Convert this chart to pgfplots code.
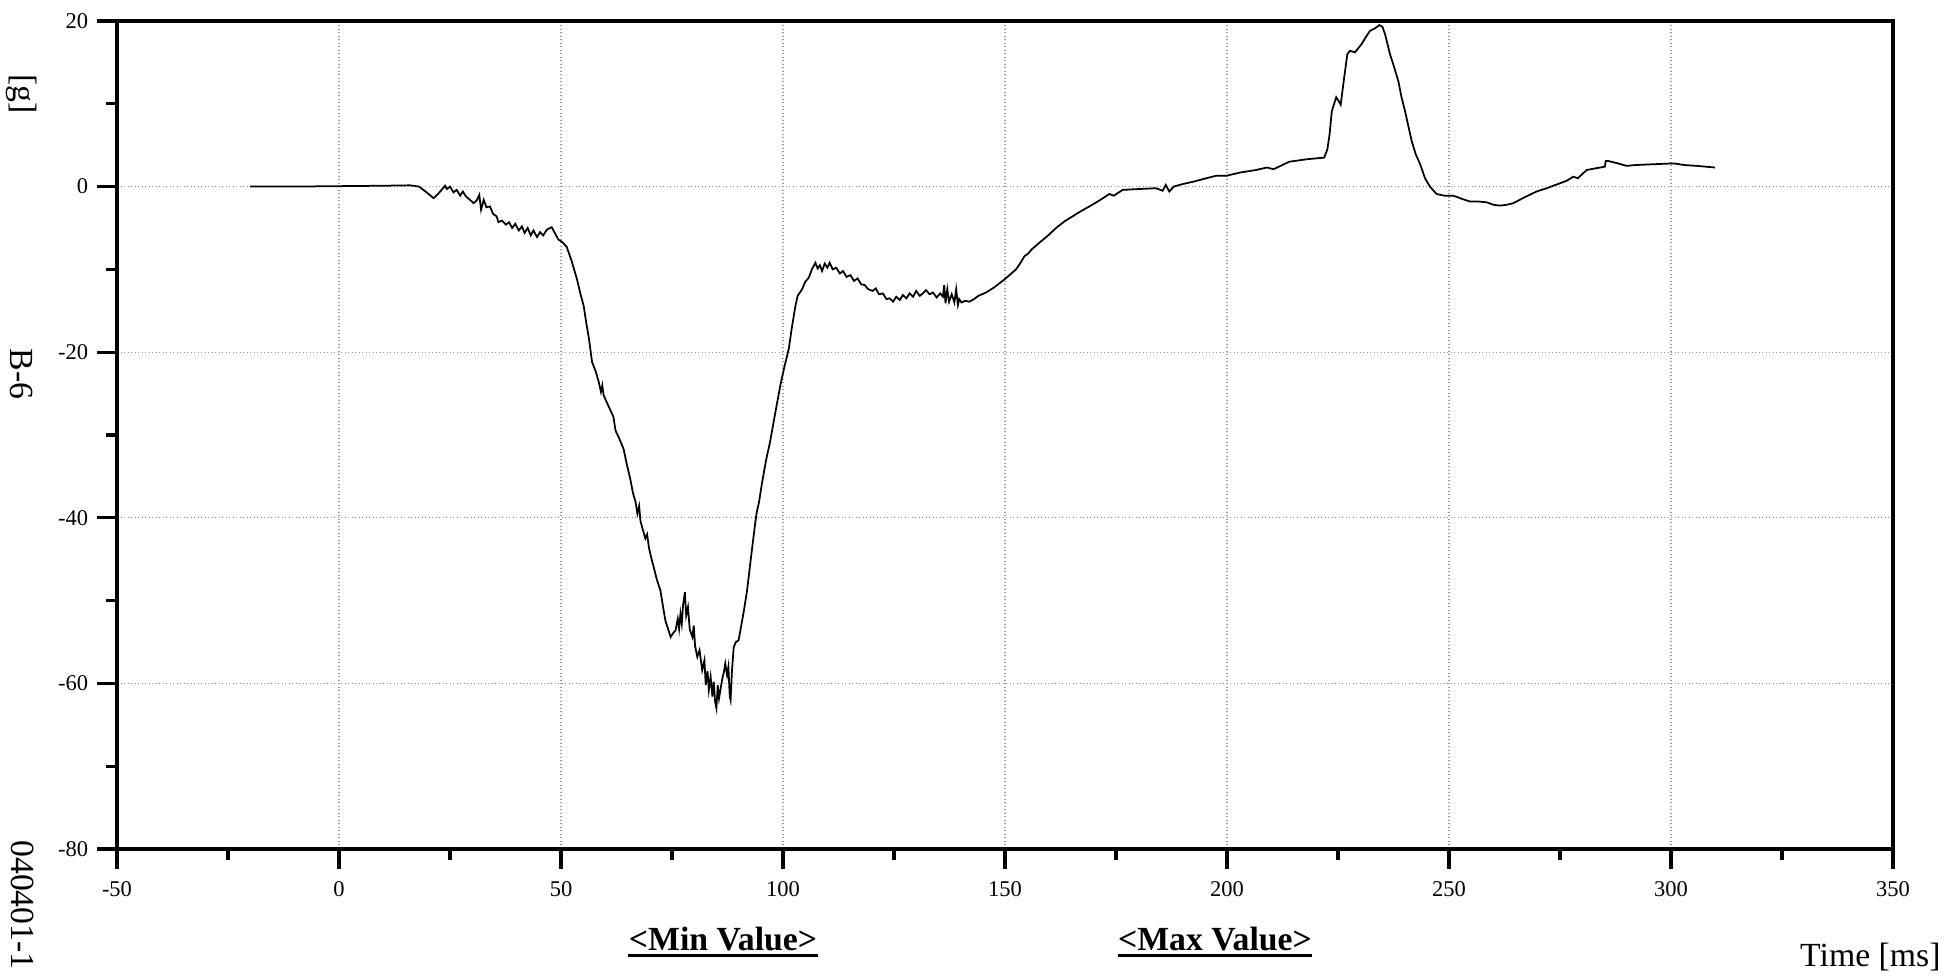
\documentclass[border=0pt]{standalone}
\usepackage{fontspec}
\setmainfont{Liberation Serif}
\usepackage{pgfplots}
\pgfplotsset{compat=1.18}

\begin{document}
\begin{tikzpicture}
\useasboundingbox (-46.8pt,-50.4pt) rectangle (730.8pt,339.6pt);
\begin{axis}[
  at={(0pt,0pt)}, anchor=south west,
  scale only axis, width=710.4pt, height=331.2pt,
  xmin=-50, xmax=350, ymin=-80, ymax=20,
  xtick={-50,0,...,350}, ytick={-80,-60,...,20},
  xticklabels={-50,0,50,100,150,200,250,300,350},
  yticklabels={-80,-60,-40,-20,0,20},
  minor x tick num=1, minor y tick num=1,
  xtick pos=left, ytick pos=left,
  tick align=outside,
  major tick length=8pt, minor tick length=4.4pt,
  every tick/.append style={black, line width=1.3pt},
  axis line style={line width=1.5pt},
  xmajorgrids, ymajorgrids,
  major grid style={densely dotted, gray!80, line width=0.5pt},
  tick label style={font=\fontsize{9}{10}\selectfont},
  xticklabel style={yshift=-1.6pt},
  clip=false,
]
\addplot[black, line width=0.7pt] coordinates {
(-20,0.0) (-10,0.0) (0,0.05) (10,0.1) (16,0.15) (18,0.0)
(19.5,-0.6) (21.3,-1.4) (22.3,-0.9) (23.9,0.1) (24.3,-0.3) (25.0,0.0) (25.8,-0.7) (26.5,-0.4) (27.3,-1.1) (27.9,-0.6) (28.6,-1.2) (29.5,-1.6) (30.3,-2.0) (31.0,-1.7) (31.6,-1.0) (32.0,-2.8) (32.6,-1.6) (33.2,-2.5) (34.0,-2.4) (34.7,-3.3) (35.5,-3.6) (35.9,-4.3) (36.7,-4.1) (37.6,-4.6) (38.3,-4.3) (39.0,-5.0) (39.7,-4.5) (40.5,-5.3) (41.2,-4.8) (41.8,-5.6) (42.5,-5.0) (43.2,-5.9) (43.8,-5.3) (44.6,-6.1) (45.3,-5.5) (46.0,-5.9) (46.8,-5.2) (47.9,-4.9) (48.6,-5.6) (49.4,-6.4) (50.3,-6.7) (51.3,-7.3) (52.4,-9.0) (53.6,-11.2) (54.4,-13.0) (55.1,-14.4) (55.7,-16.5) (56.3,-18.4) (57.0,-21.2) (57.8,-22.3) (58.5,-23.6) (59.0,-24.8) (59.3,-24.0) (59.6,-25.2) (60.6,-26.4) (61.8,-27.8) (62.3,-29.5) (63.1,-30.4) (64.1,-31.7) (64.8,-33.5) (65.6,-35.3) (66.2,-37.0) (66.8,-38.1) (67.2,-39.5) (67.6,-38.6) (67.9,-40.4) (68.3,-41.2) (69.0,-42.5) (69.4,-42.0) (69.8,-43.6) (70.4,-45.0) (70.9,-46.0) (71.6,-47.5) (72.4,-48.8) (73.0,-50.8) (73.5,-52.4) (74.7,-54.4) (75.3,-53.9) (75.8,-53.6) (76.3,-52.2) (76.6,-53.4) (76.9,-51.6) (77.2,-52.8) (77.5,-50.5) (77.9,-49.0) (78.2,-51.8) (78.6,-50.8) (79.0,-53.5) (79.6,-54.4) (79.9,-53.0) (80.2,-55.5) (80.7,-56.8) (81.2,-56.0) (81.8,-58.4) (82.3,-57.2) (82.6,-60.2) (83.0,-58.5) (83.3,-60.8) (83.7,-59.2) (84.1,-61.6) (84.4,-59.8) (84.7,-62.2) (85.0,-63.0) (85.3,-60.2) (85.6,-61.8) (85.9,-60.8) (86.3,-59.5) (86.7,-58.6) (87.0,-57.6) (87.4,-59.0) (87.7,-58.0) (88.0,-61.5) (88.2,-62.0) (88.5,-58.5) (88.9,-55.6) (89.4,-55.0) (90.0,-54.8) (90.6,-53.0) (91.2,-51.2) (91.9,-48.8) (92.3,-47.0) (92.7,-45.2) (93.2,-43.0) (93.7,-40.8) (94.1,-39.3) (94.6,-38.1) (95.3,-35.7) (96.2,-33.0) (97.1,-30.8) (98.2,-27.5) (99.4,-24.0) (100.3,-21.8) (101.3,-19.6) (102.0,-17.0) (102.8,-14.4) (103.3,-13.2) (104.3,-12.4) (105.0,-11.5) (105.8,-11.0) (106.5,-10.0) (107.3,-9.2) (107.8,-9.9) (108.3,-9.5) (108.8,-10.2) (109.4,-9.3) (110.0,-9.8) (110.5,-9.2) (111.2,-10.0) (112.0,-9.8) (112.8,-10.5) (113.5,-10.2) (114.3,-10.9) (115.2,-10.7) (116.0,-11.4) (116.8,-11.1) (117.6,-11.8) (118.4,-11.9) (119.2,-12.4) (120.2,-12.6) (120.9,-12.3) (121.6,-13.0) (122.5,-12.9) (123.3,-13.6) (124.0,-13.5) (124.8,-13.9) (125.5,-13.3) (126.3,-13.7) (127.0,-13.1) (127.8,-13.5) (128.5,-12.9) (129.3,-13.3) (130.0,-12.6) (130.8,-13.2) (131.5,-12.9) (132.2,-12.5) (133.0,-13.0) (133.8,-12.8) (134.6,-13.4) (135.4,-12.9) (136.0,-13.3) (136.3,-11.9) (136.6,-14.1) (137.0,-12.4) (137.4,-13.9) (138.0,-13.0) (138.6,-14.0) (139.0,-12.4) (139.4,-14.3) (139.7,-13.6) (140.2,-14.0) (141.0,-13.8) (142.0,-13.9) (143.0,-13.6) (144.0,-13.2) (145.7,-12.8) (147.5,-12.2) (149.9,-11.2) (151.2,-10.6) (152.5,-10.0) (153.5,-9.2) (154.4,-8.4) (155.2,-8.1) (156.0,-7.6) (157.7,-6.8) (159.5,-6.0) (161.5,-5.0) (163.4,-4.2) (165.2,-3.6) (167.0,-3.0) (169.0,-2.4) (171.2,-1.7) (173.5,-0.9) (174.5,-1.1) (176.5,-0.4) (180.0,-0.3) (184.0,-0.2) (185.5,-0.5) (186.2,0.2) (187.0,-0.6) (188.0,0.0) (190.0,0.3) (192.5,0.6) (195.3,1.0) (197.5,1.3) (199.8,1.3) (203.0,1.7) (206.5,2.0) (209.0,2.3) (210.5,2.1) (214.0,3.0) (218.0,3.3) (221.9,3.5) (222.6,4.5) (223.1,6.3) (223.6,9.1) (224.6,10.8) (225.3,10.2) (225.6,9.9) (226.4,13.2) (227.1,16.0) (227.7,16.4) (228.8,16.2) (230.3,17.2) (231.2,18.0) (232.2,18.8) (233.3,19.1) (234.3,19.5) (235.0,19.3) (235.6,18.4) (236.7,16.0) (237.6,14.5) (238.6,12.7) (239.3,10.8) (240.1,9.1) (240.8,7.4) (241.6,5.5) (242.5,3.9) (243.5,2.7) (244.6,1.0) (245.7,0.0) (247.2,-0.9) (249.0,-1.1) (251.0,-1.1) (253.0,-1.5) (254.7,-1.8) (256.5,-1.8) (258.5,-1.9) (260.0,-2.2) (261.5,-2.3) (263.0,-2.2) (264.5,-2.0) (267.0,-1.3) (269.7,-0.6) (272.0,-0.2) (275.0,0.4) (276.5,0.7) (278.0,1.2) (279.0,1.0) (281.0,2.0) (283.0,2.2) (285.1,2.4) (285.3,3.1) (285.8,3.1) (288.0,2.8) (290.0,2.5) (292.0,2.6) (296.1,2.7) (300.6,2.8) (303.0,2.6) (305.8,2.5) (309.9,2.3)
};
\end{axis}
\node[rotate=-90, font=\fontsize{13.5}{16}\selectfont] at (-38pt,302pt) {[g]};
\node[rotate=-90, font=\fontsize{13.5}{16}\selectfont] at (-38pt,190pt) {B-6};
\node[rotate=-90, font=\fontsize{13.5}{16}\selectfont] at (-37.6pt,-22.4pt) {040401-1};
\node (mn) [anchor=base, inner sep=0pt, font=\bfseries\fontsize{13.5}{16}\selectfont] at (242.4pt,-40.4pt) {<Min Value>};
\draw[line width=1.2pt] ([yshift=-2.4pt]mn.base west) -- ([yshift=-2.4pt]mn.base east);
\node (mx) [anchor=base, inner sep=0pt, font=\bfseries\fontsize{13.5}{16}\selectfont] at (439.2pt,-40.4pt) {<Max Value>};
\draw[line width=1.2pt] ([yshift=-2.4pt]mx.base west) -- ([yshift=-2.4pt]mx.base east);
\node[anchor=base east, inner sep=0pt, font=\fontsize{13.5}{16}\selectfont] at (729.6pt,-46.8pt) {Time [ms]};
\end{tikzpicture}
\end{document}
